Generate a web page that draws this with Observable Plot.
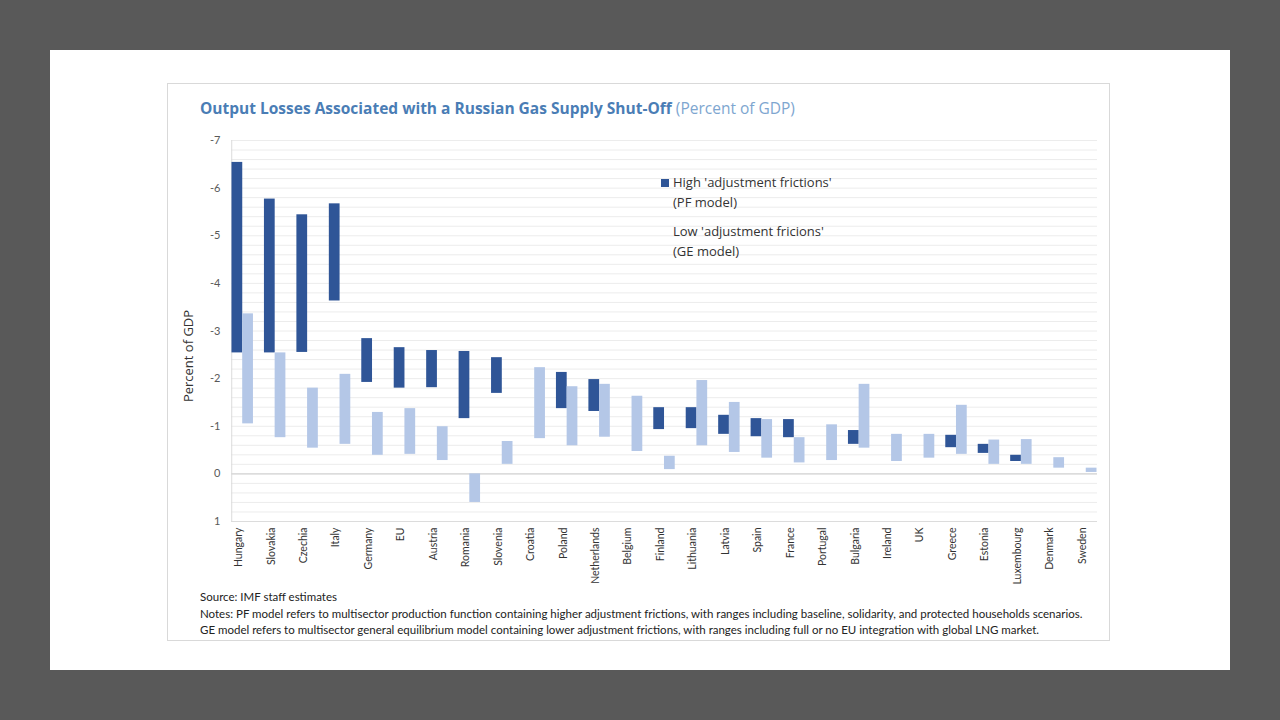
<!DOCTYPE html>
<html>
<head>
<meta charset="utf-8">
<script src="https://cdn.jsdelivr.net/npm/d3@7"></script>
<script src="https://cdn.jsdelivr.net/npm/@observablehq/plot@0.6"></script>
<style>
  html, body { margin: 0; padding: 0; }
  body { width: 1280px; height: 720px; background: #595959; position: relative; overflow: hidden; font-family: Lato, "Open Sans", sans-serif; }
  #slide { position: absolute; left: 50px; top: 50px; width: 1180px; height: 620px; background: #fff; }
  #box { position: absolute; left: 167px; top: 83px; width: 941px; height: 556px; border: 1px solid #d9d9d9; box-sizing: content-box; }
  #title { position: absolute; left: 200px; top: 97px; font-family: "Open Sans", sans-serif; font-size: 15.5px; color: #4a7db5; white-space: nowrap; }
  #title b { font-weight: 700; }
  #title span { color: #7ea6d0; font-weight: 400; }
  #chart { position: absolute; left: 167px; top: 130px; }
  #legend { position: absolute; left: 661px; top: 173px; font-family: "Open Sans", sans-serif; font-size: 13px; color: #333; line-height: 19.5px; }
  #legend .item { position: relative; padding-left: 12px; }
  #legend .sw { position: absolute; left: 0; top: 6px; width: 8px; height: 8px; }
  #notes { position: absolute; left: 200px; top: 589px; font-family: Lato, sans-serif; font-size: 11.5px; color: #222; line-height: 16.5px; white-space: nowrap; }
</style>
</head>
<body>
<div id="slide"></div>
<div id="box"></div>
<div id="title"><b>Output Losses Associated with a Russian Gas Supply Shut-Off</b> <span>(Percent of GDP)</span></div>
<div id="chart"></div>
<div id="legend"></div>
<div id="notes">
  <div>Source: IMF staff estimates</div>
  <div>Notes: PF model refers to multisector production function containing higher adjustment frictions, with ranges including baseline, solidarity, and protected households scenarios.</div>
  <div>GE model refers to multisector general equilibrium model containing lower adjustment frictions, with ranges including full or no EU integration with global LNG market.</div>
</div>
<script>
const countries = ["Hungary","Slovakia","Czechia","Italy","Germany","EU","Austria","Romania","Slovenia","Croatia","Poland","Netherlands","Belgium","Finland","Lithuania","Latvia","Spain","France","Portugal","Bulgaria","Ireland","UK","Greece","Estonia","Luxembourg","Denmark","Sweden"];
// High 'adjustment frictions' (PF model): range ends
const pfTop    = [-6.54,-5.77,-5.44,-5.67,-2.84,-2.65,-2.59,-2.57,-2.44,null,-2.13,-1.98,null,-1.39,-1.39,-1.23,-1.16,-1.14,null,-0.91,null,null,-0.81,-0.62,-0.39,null,null];
const pfBottom = [-2.54,-2.54,-2.55,-3.63,-1.92,-1.80,-1.81,-1.16,-1.69,null,-1.37,-1.31,null,-0.93,-0.95,-0.83,-0.78,-0.76,null,-0.62,null,null,-0.55,-0.43,-0.26,null,null];
// Low 'adjustment fricions' (GE model): range ends
const geTop    = [-3.36,-2.54,-1.80,-2.09,-1.29,-1.37,-0.99,0.00,-0.68,-2.23,-1.83,-1.88,-1.63,-0.37,-1.96,-1.50,-1.14,-0.76,-1.03,-1.88,-0.83,-0.83,-1.44,-0.71,-0.72,-0.34,-0.12];
const geBottom = [-1.05,-0.76,-0.54,-0.62,-0.39,-0.41,-0.28,0.60,-0.20,-0.74,-0.59,-0.77,-0.47,-0.09,-0.59,-0.45,-0.33,-0.23,-0.28,-0.54,-0.26,-0.33,-0.41,-0.20,-0.20,-0.12,-0.03];
const yTicks = [-7,-6,-5,-4,-3,-2,-1,0,1];
const seriesNames = ["High 'adjustment frictions'\n(PF model)", "Low 'adjustment fricions'\n(GE model)"];
const seriesColors = ["#2f5597", "#b4c7e7"];

const pf = countries.map((c, i) => ({country: c, y1: pfTop[i], y2: pfBottom[i]})).filter(d => d.y1 != null);
const ge = countries.map((c, i) => ({country: c, y1: geTop[i], y2: geBottom[i]}));
const grid = d3.range(-35, 6).map(i => i / 5);

const chart = Plot.plot({
  width: 942,
  height: 465,
  marginLeft: 59,
  marginRight: 7,
  marginTop: 10,
  marginBottom: 74,
  style: {background: "transparent", fontFamily: "Lato, sans-serif", color: "#595959"},
  x: {domain: countries, padding: 0, round: false, label: null},
  y: {domain: [1, -7], label: null},
  marks: [
    Plot.ruleY(grid, {stroke: "#ececec", strokeWidth: 1, insetLeft: 5, insetRight: 5}),
    Plot.ruleY([0], {stroke: "#d4d4d4", strokeWidth: 1.2, insetLeft: 5, insetRight: 5}),
    Plot.ruleY([1], {stroke: "#dcdcdc", strokeWidth: 1, insetLeft: 5, insetRight: 5}),
    Plot.ruleX([countries[0]], {stroke: "#dcdcdc", dx: -11}),
    Plot.barY(pf, {x: "country", y1: "y1", y2: "y2", fill: seriesColors[0], insetLeft: 5.5, insetRight: 16.2}),
    Plot.barY(ge, {x: "country", y1: "y1", y2: "y2", fill: seriesColors[1], insetLeft: 16.2, insetRight: 5.5}),
    Plot.axisY({ticks: yTicks, tickFormat: d => String(d), tickSize: 0, tickPadding: 6, fontSize: 11, fill: "#595959", label: null}),
    Plot.axisX({tickRotate: -90, tickSize: 0, tickPadding: 6, fontSize: 10.5, fill: "#333", dx: -4, label: null}),
    Plot.text(["Percent of GDP"], {frameAnchor: "left", textAnchor: "middle", rotate: -90, dx: -38, dy: 25, fontSize: 13, fill: "#333", fontFamily: "Open Sans, sans-serif"})
  ]
});
document.getElementById("chart").appendChild(chart);

const legend = document.getElementById("legend");
seriesNames.forEach((name, i) => {
  const item = document.createElement("div");
  item.className = "item";
  item.style.marginBottom = i === 0 ? "10px" : "0";
  if (i === 0) {
    const sw = document.createElement("div");
    sw.className = "sw";
    sw.style.background = seriesColors[i];
    item.appendChild(sw);
  }
  name.split("\n").forEach(line => {
    const d = document.createElement("div");
    d.textContent = line;
    item.appendChild(d);
  });
  legend.appendChild(item);
});
</script>
</body>
</html>
